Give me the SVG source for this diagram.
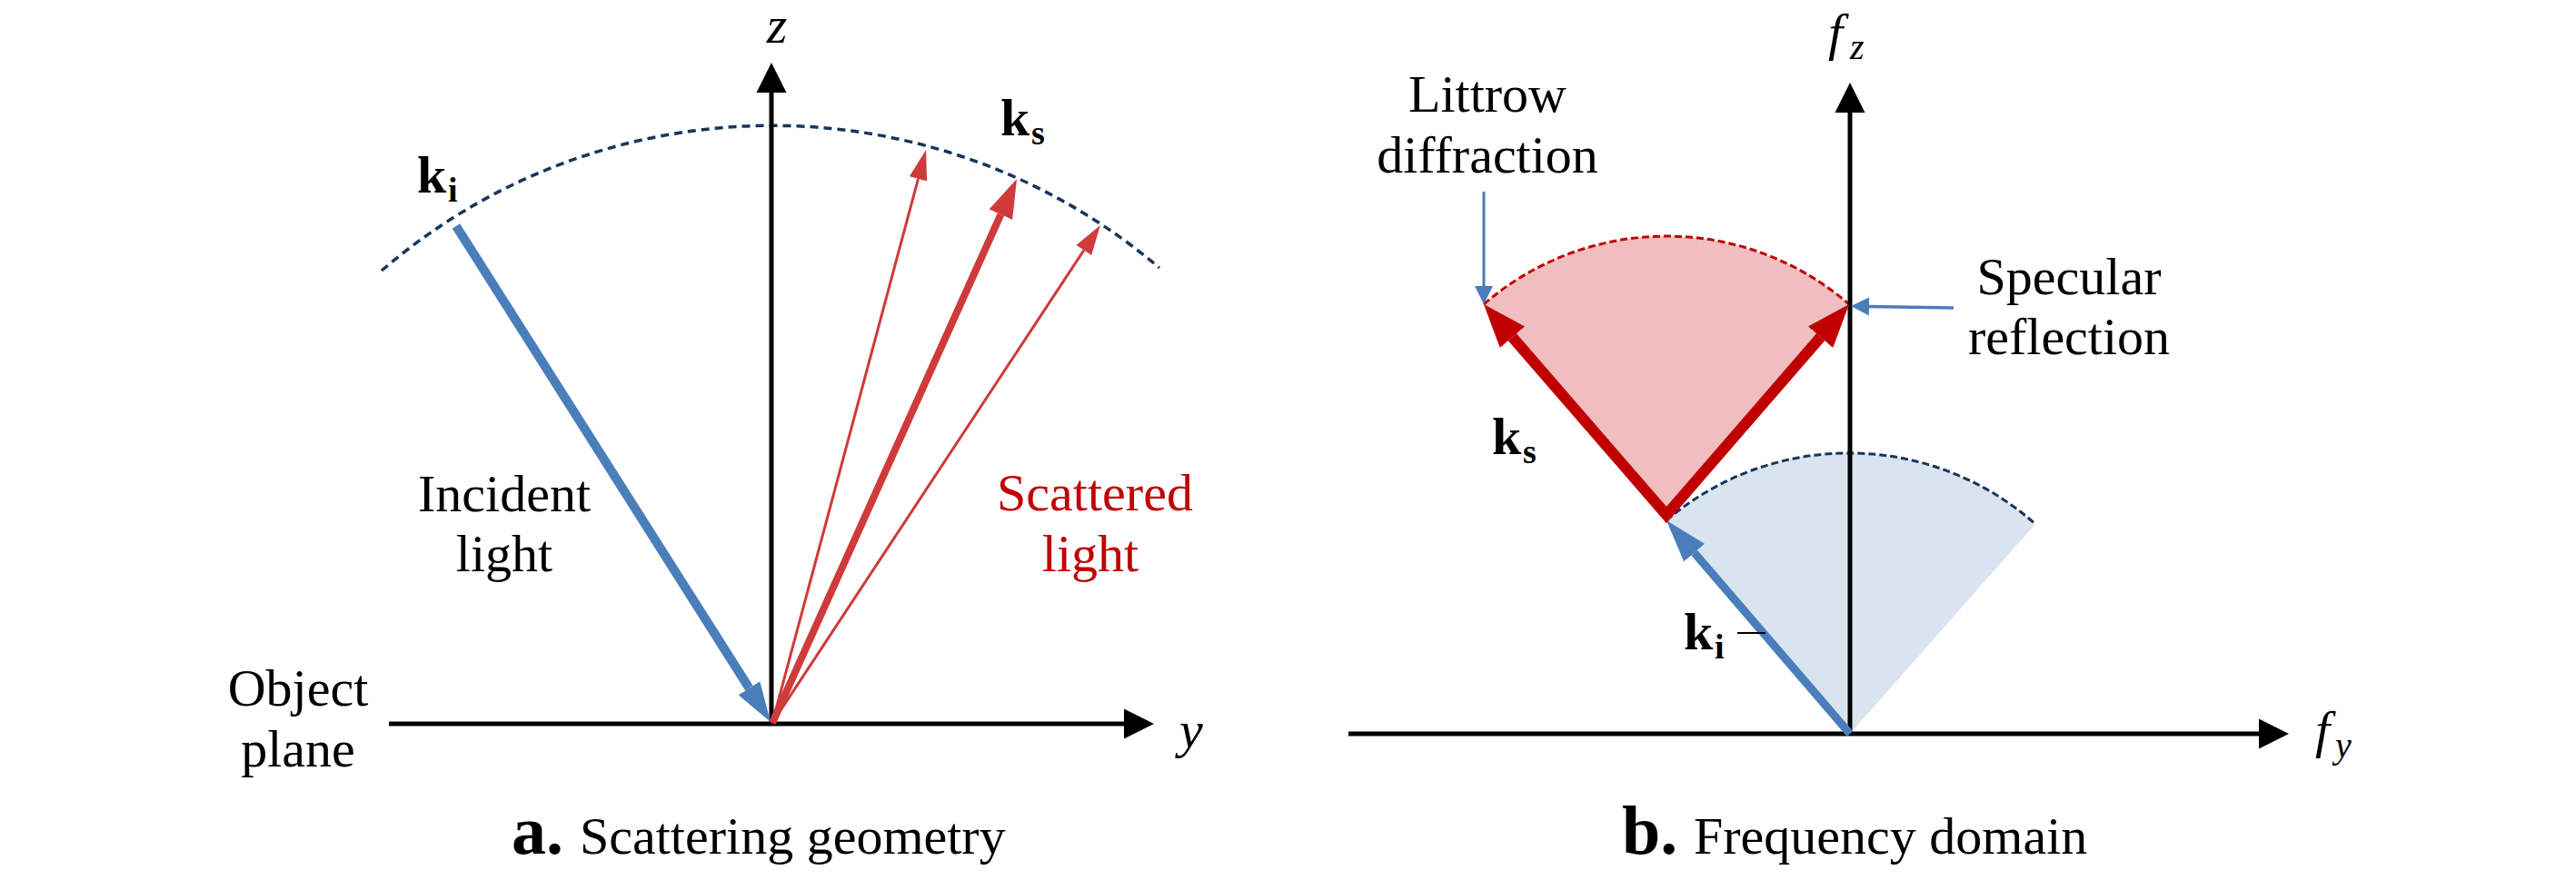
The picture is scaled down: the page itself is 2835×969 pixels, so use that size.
<svg xmlns="http://www.w3.org/2000/svg" width="2835" height="969" viewBox="0 0 2835 969">
<style>
text{font-family:"Liberation Serif","Times New Roman",serif;fill:#000}
.t{font-size:58px}
.c{text-anchor:middle}
.it{font-style:italic}
.b{font-weight:bold}
.red{fill:#C00000}
.axis{stroke:#000;stroke-width:5;fill:none}
.arcd{stroke:#17365D;stroke-width:3.5;fill:none;stroke-dasharray:9 6}
.arcd2{stroke:#17365D;stroke-width:3;fill:none;stroke-dasharray:8 4}
</style>
<defs>
<marker id="hBlack" markerUnits="userSpaceOnUse" markerWidth="40" markerHeight="40" viewBox="0 -20 40 40" refX="0" refY="0" orient="auto"><path d="M0,-16.5 L33,0 L0,16.5 Z" fill="#000"/></marker>
<marker id="hBlueA" markerUnits="userSpaceOnUse" markerWidth="50" markerHeight="40" viewBox="0 -20 50 40" refX="0" refY="0" orient="auto"><path d="M0,-14 L44,0 L0,14 Z" fill="#4A7EBB"/></marker>
<marker id="hRedThin" markerUnits="userSpaceOnUse" markerWidth="40" markerHeight="30" viewBox="0 -15 40 30" refX="0" refY="0" orient="auto"><path d="M0,-10 L33,0 L0,10 Z" fill="#CF3A3A"/></marker>
<marker id="hRedThick" markerUnits="userSpaceOnUse" markerWidth="50" markerHeight="40" viewBox="0 -20 50 40" refX="0" refY="0" orient="auto"><path d="M0,-14 L43,0 L0,14 Z" fill="#CF3A3A"/></marker>
<marker id="hRedB" markerUnits="userSpaceOnUse" markerWidth="56" markerHeight="44" viewBox="0 -22 56 44" refX="0" refY="0" orient="auto-start-reverse"><path d="M0,-18 L48,0 L0,18 Z" fill="#C00000"/></marker>
<marker id="hBlueB" markerUnits="userSpaceOnUse" markerWidth="56" markerHeight="40" viewBox="0 -20 56 40" refX="0" refY="0" orient="auto"><path d="M0,-15 L47,0 L0,15 Z" fill="#4A7EBB"/></marker>
<marker id="hSmall" markerUnits="userSpaceOnUse" markerWidth="26" markerHeight="26" viewBox="0 -13 26 26" refX="0" refY="0" orient="auto"><path d="M0,-10 L20,0 L0,10 Z" fill="#4A7EBB"/></marker>
</defs>
<rect width="2835" height="969" fill="#fff"/>

<!-- Panel a -->
<g id="panel-a">
  <g id="a-arc"><path class="arcd" d="M420,298 A658 658 0 0 1 1276,295"/></g>
  <g id="a-axes">
    <line class="axis" x1="428" y1="797" x2="1237" y2="797" marker-end="url(#hBlack)"/>
    <line class="axis" x1="849" y1="799" x2="849" y2="102" marker-end="url(#hBlack)"/>
  </g>
  <g id="a-connectors">
    <line x1="502" y1="249" x2="824.5" y2="757.8" stroke="#4A7EBB" stroke-width="10" marker-end="url(#hBlueA)"/>
    <line x1="850" y1="796" x2="1010.5" y2="196.9" stroke="#CF3A3A" stroke-width="3" marker-end="url(#hRedThin)"/>
    <line x1="850" y1="796" x2="1101.4" y2="236.2" stroke="#CF3A3A" stroke-width="8" marker-end="url(#hRedThick)"/>
    <line x1="850" y1="796" x2="1192.8" y2="275.6" stroke="#CF3A3A" stroke-width="3" marker-end="url(#hRedThin)"/>
  </g>
  <g id="a-labels">
    <text class="t it c" x="855" y="47">z</text>
    <text class="t it" x="1298" y="823">y</text>
    <text class="t b" x="459" y="212">k</text><text class="b" font-size="38" x="493" y="222">i</text>
    <text class="t b" x="1101" y="149">k</text><text class="b" font-size="38" x="1135" y="159">s</text>
    <text class="t c" x="555" y="563">Incident</text>
    <text class="t c" x="555" y="629">light</text>
    <text class="t c red" x="1205" y="562">Scattered</text>
    <text class="t c red" x="1200" y="629">light</text>
    <text class="t c" x="328" y="777">Object</text>
    <text class="t c" x="328" y="844">plane</text>
  </g>
  <g id="a-caption">
    <text x="563" y="940"><tspan class="b" font-size="76">a.</tspan><tspan class="t" x="638">Scattering geometry</tspan></text>
  </g>
</g>

<!-- Panel b -->
<g id="panel-b">
  <g id="b-sectors">
    <path d="M2036,808 L1834,573 A309 309 0 0 1 2240,577 Z" fill="#DAE3F0"/>
    <path class="arcd2" d="M1834,573 A309 309 0 0 1 2240,577"/>
    <path d="M1834,567 L1633,335 A307 307 0 0 1 2035,335 Z" fill="#F0BEBE"/>
    <path d="M1633,335 A307 307 0 0 1 2035,335" fill="none" stroke="#C00000" stroke-width="3" stroke-dasharray="8 4"/>
  </g>
  <g id="b-axes">
    <line class="axis" x1="1484" y1="808" x2="2486" y2="808" marker-end="url(#hBlack)"/>
    <line class="axis" x1="2036" y1="810" x2="2036" y2="124" marker-end="url(#hBlack)"/>
  </g>
  <g id="b-connectors">
    <line x1="2036" y1="808" x2="1864.6" y2="608.6" stroke="#4A7EBB" stroke-width="9" marker-end="url(#hBlueB)"/>
    <polyline points="1664.4,371.3 1834,567 2003.6,371.3" fill="none" stroke="#C00000" stroke-width="12" stroke-linejoin="miter" marker-start="url(#hRedB)" marker-end="url(#hRedB)"/>
    <line x1="1633" y1="211" x2="1633" y2="315" stroke="#4A7EBB" stroke-width="3" marker-end="url(#hSmall)"/>
    <line x1="2150" y1="339" x2="2057" y2="337.4" stroke="#4A7EBB" stroke-width="3.5" marker-end="url(#hSmall)"/>
    <line x1="1912" y1="697" x2="1943" y2="697" stroke="#000" stroke-width="2"/>
  </g>
  <g id="b-labels">
    <text class="t it" x="2012" y="55">f</text><text class="it" font-size="40" x="2036" y="65">z</text>
    <text class="t it" x="2548" y="823">f</text><text class="it" font-size="40" x="2570" y="834">y</text>
    <text class="t b" x="1642" y="500">k</text><text class="b" font-size="38" x="1676" y="510">s</text>
    <text class="t b" x="1853" y="715">k</text><text class="b" font-size="38" x="1887" y="725">i</text>
    <text class="t c" x="1637" y="123">Littrow</text>
    <text class="t c" x="1637" y="190">diffraction</text>
    <text class="t c" x="2277" y="324">Specular</text>
    <text class="t c" x="2277" y="390">reflection</text>
  </g>
  <g id="b-caption">
    <text x="1785" y="940"><tspan class="b" font-size="76">b.</tspan><tspan class="t" x="1864">Frequency domain</tspan></text>
  </g>
</g>
</svg>
